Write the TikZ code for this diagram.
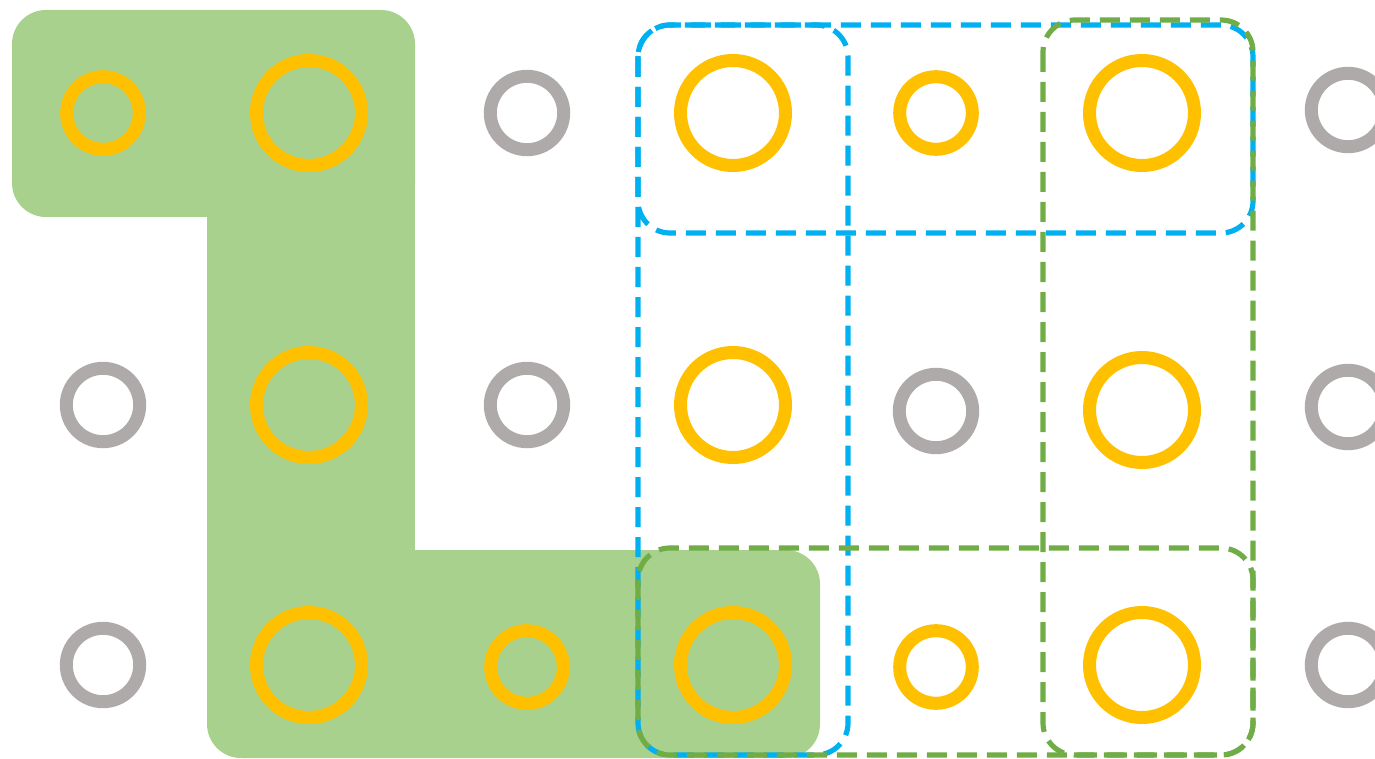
\documentclass[tikz,border=0pt]{standalone}
\definecolor{ringyellow}{HTML}{FFC000}
\definecolor{ringgray}{HTML}{AEAAAA}
\definecolor{blockgreen}{HTML}{A9D18E}
\definecolor{lineblue}{HTML}{00B0F0}
\definecolor{linegreen}{HTML}{70AD47}
\begin{document}
\begin{tikzpicture}[x=0.5pt,y=-0.5pt,
  bigring/.style={draw=ringyellow,circle,line width=6.5pt,minimum size=52.5pt,inner sep=0pt},
  smallring/.style={draw=ringyellow,circle,line width=6.5pt,minimum size=36.3pt,inner sep=0pt},
  grayring/.style={draw=ringgray,circle,line width=6.5pt,minimum size=36.7pt,inner sep=0pt},
  groupbox/.style={line width=2.6pt,dash pattern=on 10pt off 5pt,rounded corners=16pt}]
  \useasboundingbox (0,0) rectangle (1375,759);
  % green block
  \fill[blockgreen,rounded corners=17pt] (12,10) rectangle (415,217);
  \fill[blockgreen] (207,60) rectangle (415,720);
  \fill[blockgreen,rounded corners=17pt] (207,550) rectangle (820,758);
  % first row
  \node[smallring] (a1) at (103,113) {};
  \node[bigring]   (a2) at (309,113) {};
  \node[grayring]  (a3) at (527,113) {};
  \node[bigring]   (a4) at (733,113) {};
  \node[smallring] (a5) at (936,113) {};
  \node[bigring]   (a6) at (1142,113) {};
  \node[grayring]  (a7) at (1348,110) {};
  % second row
  \node[grayring]  (b1) at (103,405) {};
  \node[bigring]   (b2) at (309,405) {};
  \node[grayring]  (b3) at (527,405) {};
  \node[bigring]   (b4) at (733,405) {};
  \node[grayring]  (b5) at (936,411) {};
  \node[bigring]   (b6) at (1142,410) {};
  \node[grayring]  (b7) at (1348,407) {};
  % third row
  \node[grayring]  (c1) at (103,665) {};
  \node[bigring]   (c2) at (309,665) {};
  \node[smallring] (c3) at (527,667) {};
  \node[bigring]   (c4) at (733,665) {};
  \node[smallring] (c5) at (936,667) {};
  \node[bigring]   (c6) at (1142,665) {};
  \node[grayring]  (c7) at (1348,665) {};
  % dashed groups
  \draw[groupbox,lineblue] (638,25) rectangle (1253,233);
  \draw[groupbox,lineblue] (638,25) rectangle (848,755);
  \draw[groupbox,linegreen] (1043,20) rectangle (1253,755);
  \draw[groupbox,linegreen] (638,548) rectangle (1253,755);
\end{tikzpicture}
\end{document}
